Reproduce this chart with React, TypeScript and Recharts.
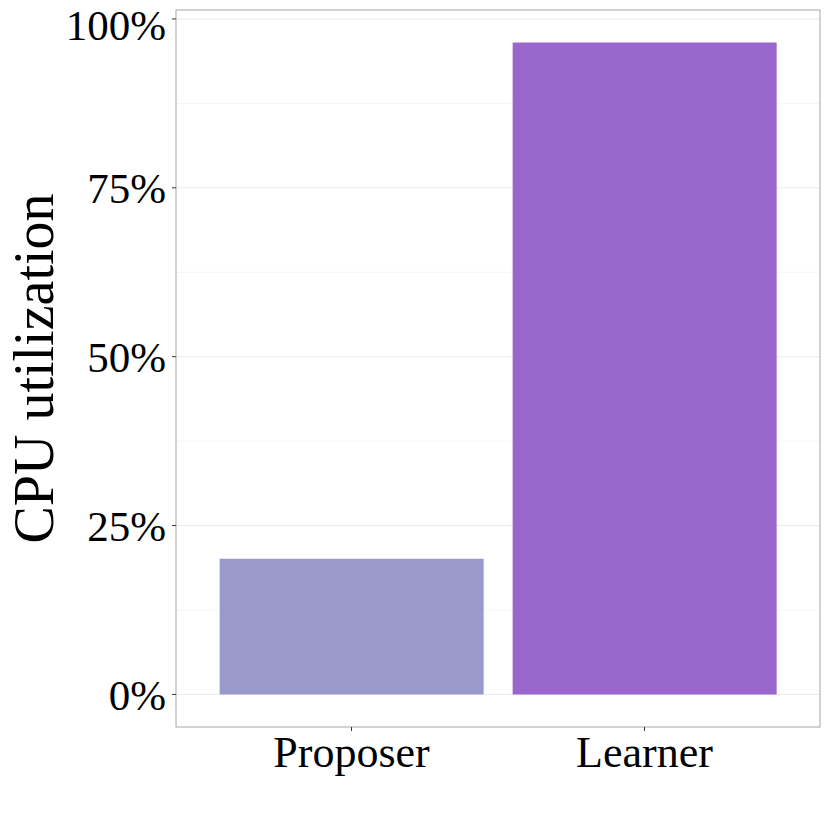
import { BarChart, Bar, XAxis, YAxis, CartesianGrid, Cell, usePlotArea } from 'recharts'

const roles = ['Proposer', 'Learner']
const cpuUtil = [20.1, 96.5]
const barColors = ['#9999CC', '#9966CC']
const majorTicks = [0, 25, 50, 75, 100]
const minorTicks = [12.5, 37.5, 62.5, 87.5]

const data = roles.map((role, i) => ({ role, cpu: cpuUtil[i] }))

const FONT = '"Liberation Serif", "Times New Roman", serif'

// ggplot-style panel frame around the plot area
function PanelBorder() {
  const area = usePlotArea()
  if (!area) return null
  return (
    <rect
      x={area.x}
      y={area.y}
      width={area.width}
      height={area.height}
      fill="none"
      stroke="#a6a6a6"
      strokeWidth={1}
    />
  )
}

export default function App() {
  return (
    <div style={{ position: 'fixed', left: 0, top: 0, width: 830, height: 830, background: '#fff' }}>
      <BarChart
        width={830}
        height={830}
        data={data}
        margin={{ top: 10, right: 10, bottom: 0, left: 0 }}
        barCategoryGap="5%"
        style={{ fontFamily: FONT }}
      >
        <CartesianGrid vertical={false} horizontalValues={minorTicks} stroke="#f5f5f5" strokeWidth={1} />
        <CartesianGrid vertical={false} horizontalValues={majorTicks} stroke="#ebebeb" strokeWidth={1} />
        <XAxis
          dataKey="role"
          height={103}
          padding={{ left: 29, right: 29 }}
          tick={{ fill: '#000', fontSize: 44, fontFamily: FONT }}
          tickSize={4}
          tickMargin={5}
          tickLine={{ stroke: '#333' }}
          axisLine={false}
        />
        <YAxis
          width={176}
          domain={[-4.825, 101.325]}
          ticks={majorTicks}
          allowDataOverflow
          tickFormatter={(v) => `${v}%`}
          tick={{ fill: '#000', fontSize: 43, fontFamily: FONT }}
          tickSize={4}
          tickMargin={6}
          tickLine={{ stroke: '#333' }}
          axisLine={false}
          label={{
            value: 'CPU utilization',
            angle: -90,
            position: 'insideLeft',
            dx: 28,
            style: { fill: '#000', fontSize: 56, fontFamily: FONT, textAnchor: 'middle' },
          }}
        />
        <Bar dataKey="cpu" isAnimationActive={false}>
          {data.map((d, i) => (
            <Cell key={d.role} fill={barColors[i]} />
          ))}
        </Bar>
        <PanelBorder />
      </BarChart>
    </div>
  )
}
